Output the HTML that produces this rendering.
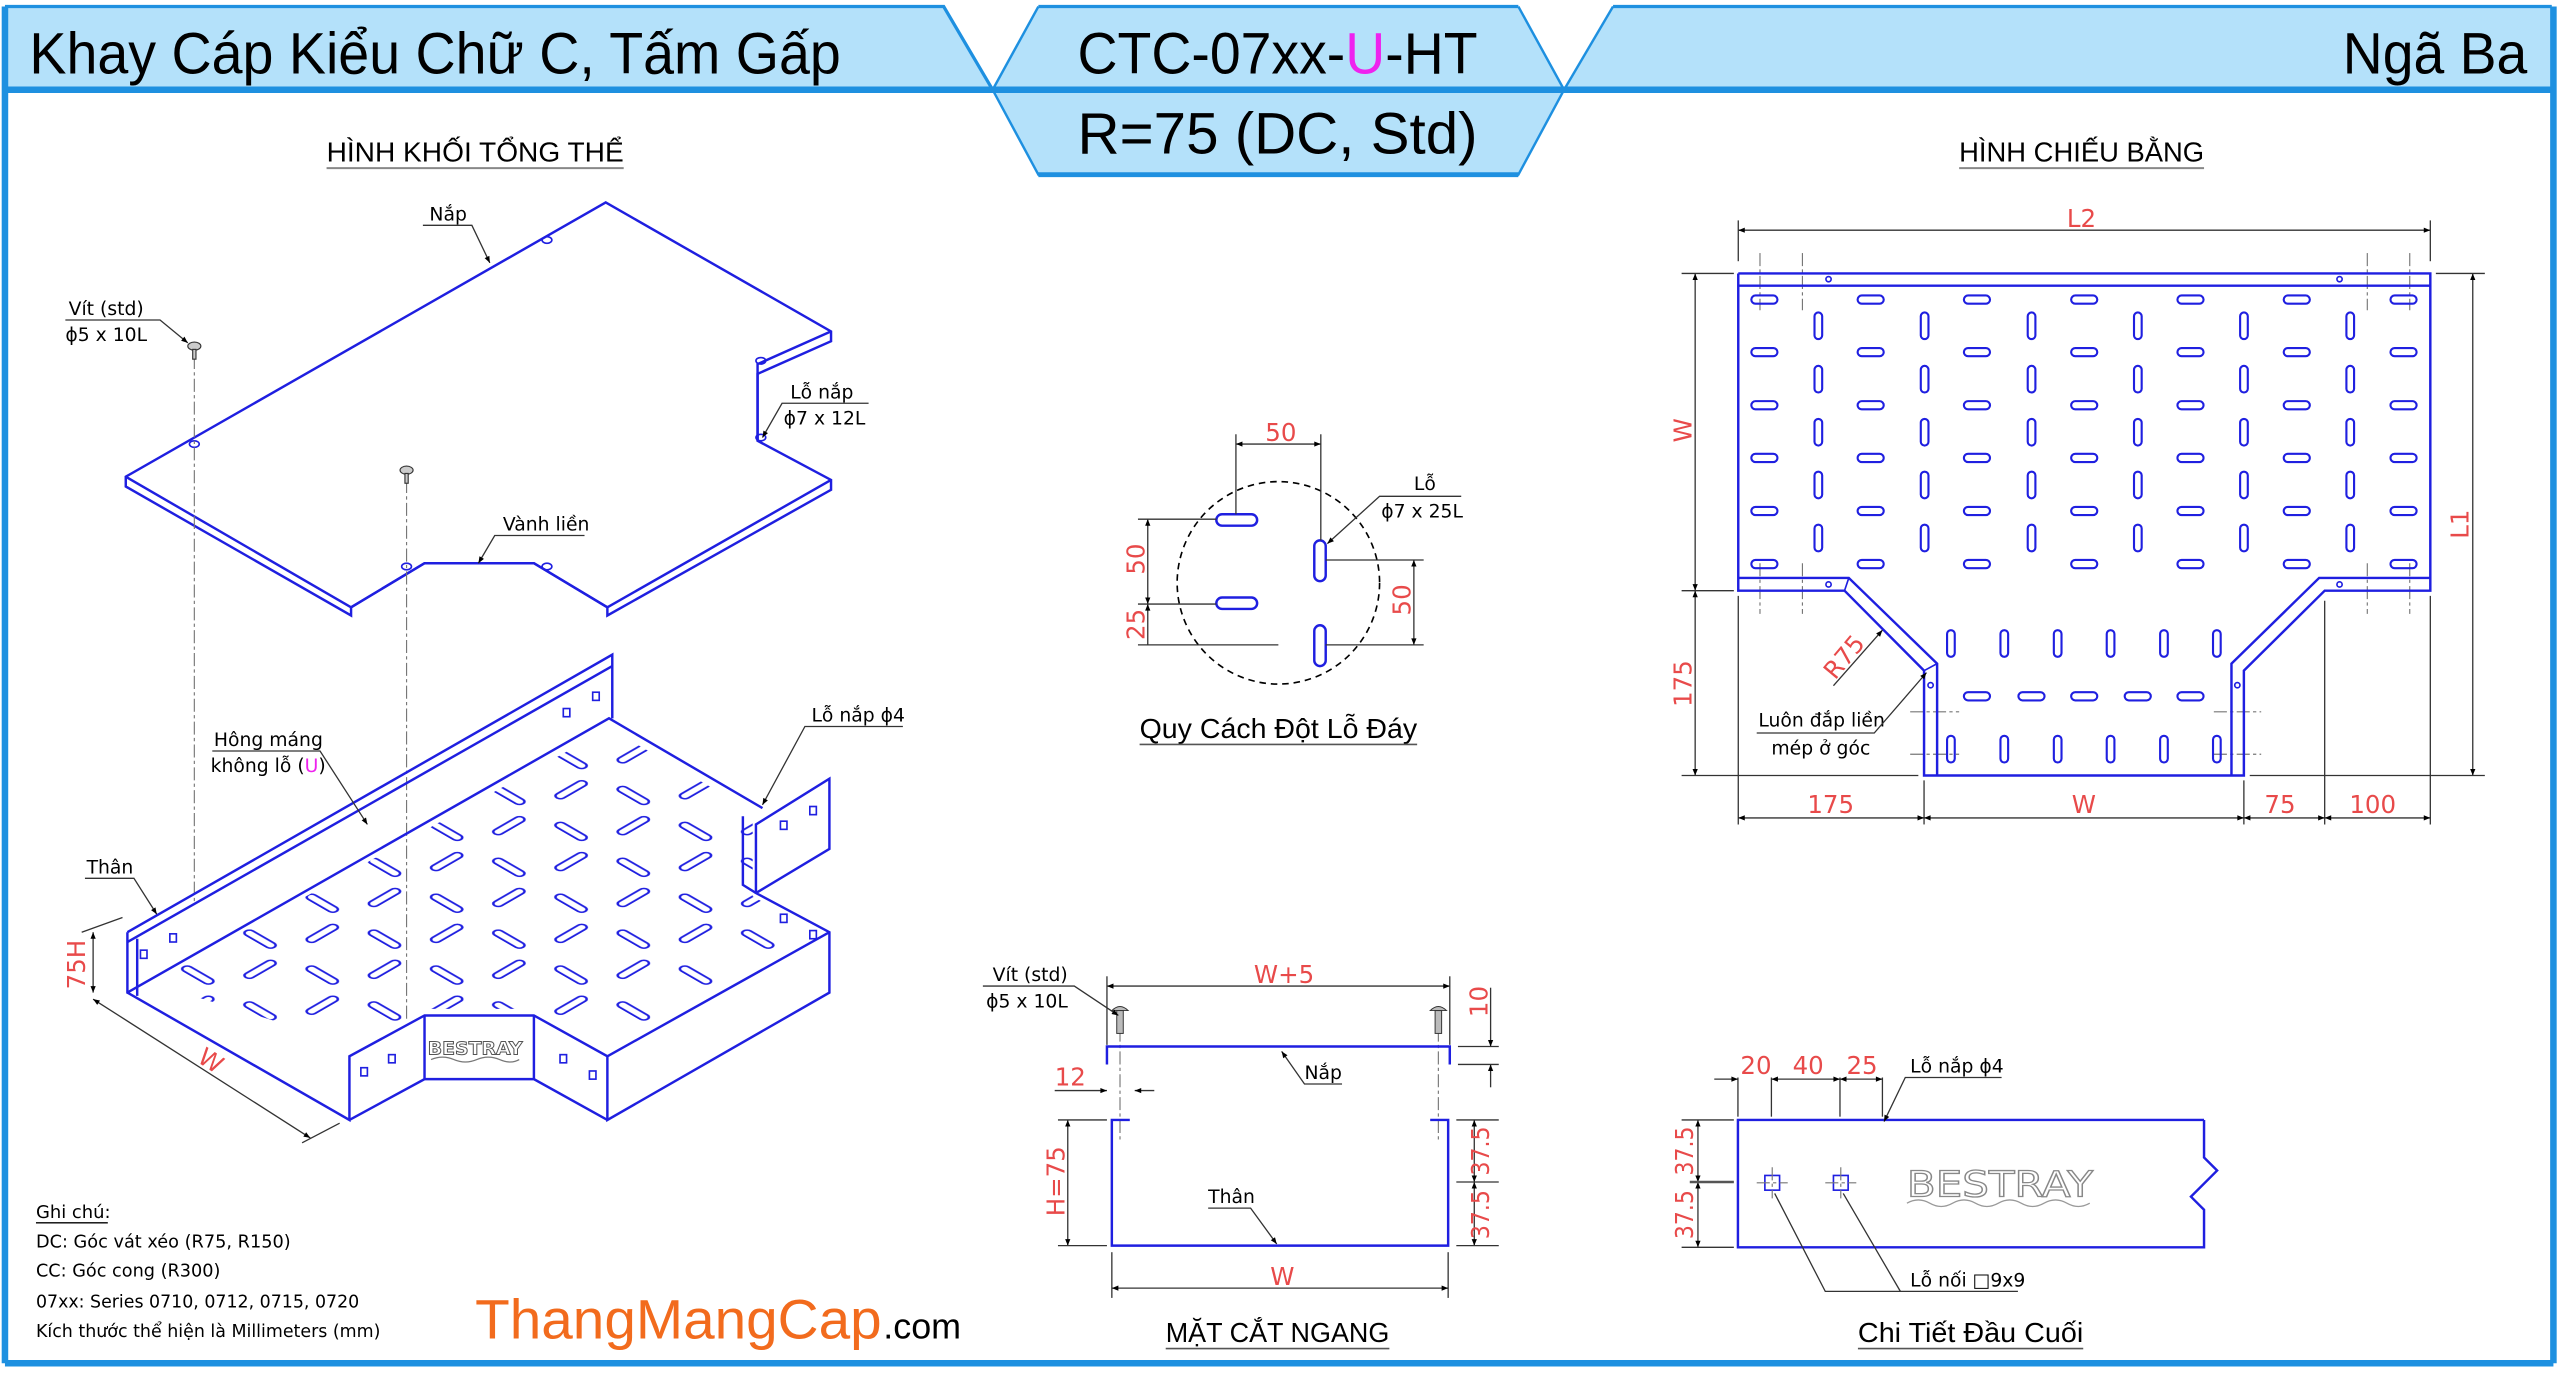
<!DOCTYPE html>
<html><head><meta charset="utf-8">
<style>
html,body{margin:0;padding:0;background:#fff;}
svg{display:block;}
text{font-family:"DejaVu Sans","Liberation Sans",sans-serif;}
.t{font-family:"Liberation Sans","DejaVu Sans",sans-serif;}
.ln{fill:none;stroke:#1f1fe0;stroke-width:1.5;}
.th{fill:none;stroke:#1f1fe0;stroke-width:1;}
.dm{fill:none;stroke:#333;stroke-width:0.8;}
.cl{fill:none;stroke:#777;stroke-width:0.7;stroke-dasharray:8 2 2 2;}
.lb{font-size:11.5px;fill:#000;}
.nt{font-size:11px;fill:#000;}
.rd{fill:#e84a4a;font-size:15px;}
</style></head>
<body>
<svg width="2560" height="1373" viewBox="0 0 1568 841" xmlns="http://www.w3.org/2000/svg">
<defs>
<marker id="ar" viewBox="0 0 10 10" refX="10" refY="5" markerWidth="7" markerHeight="5" orient="auto-start-reverse"><path d="M0,1 L10,5 L0,9z" fill="#000"/></marker>
<pattern id="slots" width="44" height="44" patternUnits="userSpaceOnUse" patternTransform="matrix(0.866,0.5,-0.866,0.5,80,606)">
<rect x="5" y="9" width="20" height="5" rx="2.5" fill="none" stroke="#1f1fe0" stroke-width="1.3"/>
<rect x="31" y="20" width="5" height="20" rx="2.5" fill="none" stroke="#1f1fe0" stroke-width="1.3"/>
</pattern>
</defs>

<!-- header -->
<polygon points="3,4 578,4 608,55 3,55" fill="#b4e1fa"/>
<polygon points="636,4 930,4 958,55 930,107 636,107 608,55" fill="#b4e1fa"/>
<polygon points="988,4 1563,4 1563,55 958,55" fill="#b4e1fa"/>
<g stroke="#1e90e0" fill="none">
<polyline points="3,4 578,4 608,55" stroke-width="2"/>
<polyline points="636,4 930,4" stroke-width="2"/>
<polyline points="988,4 1563,4" stroke-width="2"/>
<polyline points="636,4 608,55 636,107 930,107 958,55 930,4" stroke-width="1.5"/>
<polyline points="958,55 988,4" stroke-width="1.5"/>
<line x1="3" y1="55" x2="1563" y2="55" stroke-width="4"/>
<line x1="636" y1="107" x2="930" y2="107" stroke-width="3"/>
<line x1="3" y1="4" x2="3" y2="835" stroke-width="4"/>
<line x1="1564" y1="4" x2="1564" y2="835" stroke-width="4"/>
<line x1="3" y1="835" x2="1564" y2="835" stroke-width="4"/>
</g>
<text class="t" x="18" y="45" font-size="36" textLength="497" lengthAdjust="spacingAndGlyphs">Khay Cáp Kiểu Chữ C, Tấm Gấp</text>
<text class="t" x="660" y="45" font-size="36" textLength="245" lengthAdjust="spacingAndGlyphs">CTC-07xx-<tspan fill="#ee22ee">U</tspan>-HT</text>
<text class="t" x="660" y="94" font-size="36" textLength="245" lengthAdjust="spacingAndGlyphs">R=75 (DC, Std)</text>
<text class="t" x="1435" y="45" font-size="36" textLength="113" lengthAdjust="spacingAndGlyphs">Ngã Ba</text>

<!-- section titles -->
<text class="t" x="200" y="99" font-size="17" textLength="182" lengthAdjust="spacingAndGlyphs">HÌNH KHỐI TỔNG THỂ</text>
<line x1="200" y1="103" x2="382" y2="103" stroke="#888" stroke-width="1.2"/>
<text class="t" x="1200" y="99" font-size="17" textLength="150" lengthAdjust="spacingAndGlyphs">HÌNH CHIẾU BẰNG</text>
<line x1="1200" y1="103" x2="1350" y2="103" stroke="#888" stroke-width="1.2"/>

<!-- ISO: lid -->
<polygon class="ln" points="371,124 509,203 509,209 464,229 464,270 509,294 509,300 372,377 372,372 327,345 260,345 215,372 215,377 77,298 77,292"/>
<polyline class="ln" points="77,292 215,372"/>
<polyline class="ln" points="509,203 464,223 464,270"/>
<polyline class="ln" points="215,372 260,345 327,345 372,372 509,294"/>
<polyline class="th" points="77,292 371,124 509,203"/>
<g class="th"><ellipse cx="335" cy="147" rx="3" ry="2"/><ellipse cx="119" cy="272" rx="3" ry="2"/><ellipse cx="466" cy="221" rx="3" ry="2"/><ellipse cx="466" cy="268" rx="3" ry="2"/><ellipse cx="249" cy="347" rx="3" ry="2"/><ellipse cx="335" cy="347" rx="3" ry="2"/></g>
<line class="cl" x1="119" y1="218" x2="119" y2="552"/>
<line class="cl" x1="249" y1="294" x2="249" y2="624"/>
<g fill="#ccc" stroke="#333" stroke-width="0.7"><ellipse cx="119" cy="212" rx="4" ry="2.5"/><rect x="118" y="214" width="2" height="6"/><ellipse cx="249" cy="288" rx="4" ry="2.5"/><rect x="248" y="290" width="2" height="6"/></g>

<!-- ISO: tray -->
<polygon fill="url(#slots)" points="92,602 373,446 461,497 461,549 498,570 372,640 327,618 260,618 216,640"/>
<polyline class="ln" points="78,571 375,401 375,440"/>
<polyline class="ln" points="78,577 375,408"/>
<polyline class="ln" points="84,575 84,610"/>
<polyline class="ln" points="78,571 78,608 214,686 214,647 260,622 327,622 372,647 372,686 508,608 508,571 463,547 463,505 508,477 508,520 463,547"/>
<polyline class="ln" points="78,608 373,440 467,495"/>
<polyline class="ln" points="214,686 260,661 327,661 372,686"/>
<line class="ln" x1="260" y1="622" x2="260" y2="661"/>
<line class="ln" x1="327" y1="622" x2="327" y2="661"/>
<polyline class="ln" points="372,647 508,571"/>
<polyline class="ln" points="455,500 455,542 463,547"/>
<g class="th"><rect x="86" y="582" width="4" height="5"/><rect x="104" y="572" width="4" height="5"/><rect x="345" y="434" width="4" height="5"/><rect x="363" y="424" width="4" height="5"/><rect x="221" y="654" width="4" height="5"/><rect x="238" y="646" width="4" height="5"/><rect x="343" y="646" width="4" height="5"/><rect x="361" y="656" width="4" height="5"/><rect x="478" y="503" width="4" height="5"/><rect x="496" y="494" width="4" height="5"/><rect x="478" y="560" width="4" height="5"/><rect x="496" y="570" width="4" height="5"/></g>
<text x="262" y="646" font-size="11" fill="#fff" stroke="#555" stroke-width="0.6" font-weight="bold" textLength="58" lengthAdjust="spacingAndGlyphs">BESTRAY</text>
<path d="M264,649 q7,-3 14,0 t14,0 t14,0 t12,0" fill="none" stroke="#777" stroke-width="0.8"/>

<!-- ISO labels -->
<text class="lb" x="263" y="135">Nắp</text><polyline class="dm" points="259,138 289,138 300,161" marker-end="url(#ar)"/>
<text class="lb" x="42" y="193">Vít (std)</text><text class="lb" x="40" y="209">ϕ5 x 10L</text><polyline class="dm" points="40,196 98,196 115,210" marker-end="url(#ar)"/>
<text class="lb" x="484" y="244">Lỗ nắp</text><text class="lb" x="480" y="260">ϕ7 x 12L</text><polyline class="dm" points="532,247 479,247 467,268" marker-end="url(#ar)"/>
<text class="lb" x="308" y="325">Vành liền</text><polyline class="dm" points="358,328 303,328 293,345" marker-end="url(#ar)"/>
<text class="lb" x="131" y="457">Hông máng</text><text class="lb" x="129" y="473">không lỗ (<tspan fill="#ee22ee">U</tspan>)</text><polyline class="dm" points="130,460 196,460 225,505" marker-end="url(#ar)"/>
<text class="lb" x="497" y="442">Lỗ nắp ϕ4</text><polyline class="dm" points="553,445 493,445 467,493" marker-end="url(#ar)"/>
<text class="lb" x="53" y="535">Thân</text><polyline class="dm" points="52,538 82,538 96,560" marker-end="url(#ar)"/>
<line class="dm" x1="57" y1="571" x2="57" y2="608" marker-start="url(#ar)" marker-end="url(#ar)"/>
<line class="dm" x1="50" y1="571" x2="75" y2="562"/>
<text class="rd" font-size="13" transform="translate(52,606) rotate(-90)">75H</text>
<line class="dm" x1="57" y1="612" x2="190" y2="697" marker-start="url(#ar)" marker-end="url(#ar)"/>
<line class="dm" x1="185" y1="700" x2="208" y2="688"/>
<text class="rd" font-size="13" transform="translate(120,650) rotate(33)">W</text>

<!-- notes -->
<text class="nt" x="22" y="746">Ghi chú:</text><line x1="22" y1="749" x2="66" y2="749" stroke="#000" stroke-width="0.8"/>
<text class="nt" x="22" y="764" textLength="156" lengthAdjust="spacingAndGlyphs">DC: Góc vát xéo (R75, R150)</text>
<text class="nt" x="22" y="782" textLength="113" lengthAdjust="spacingAndGlyphs">CC: Góc cong (R300)</text>
<text class="nt" x="22" y="801" textLength="198" lengthAdjust="spacingAndGlyphs">07xx: Series 0710, 0712, 0715, 0720</text>
<text class="nt" x="22" y="819" textLength="211" lengthAdjust="spacingAndGlyphs">Kích thước thể hiện là Millimeters (mm)</text>
<text class="t" x="291" y="820" font-size="34" fill="#f26b1d" textLength="249" lengthAdjust="spacingAndGlyphs">ThangMangCap</text>
<text class="t" x="541" y="820" font-size="22" fill="#000">.com</text>

<!-- circle detail -->
<circle cx="783" cy="357" r="62" fill="none" stroke="#000" stroke-width="1" stroke-dasharray="4 3"/>
<g class="ln"><rect x="745" y="315" width="25" height="7" rx="3.5"/><rect x="745" y="366" width="25" height="7" rx="3.5"/><rect x="805" y="331" width="7" height="25" rx="3.5"/><rect x="805" y="383" width="7" height="25" rx="3.5"/></g>
<line class="dm" x1="757" y1="272" x2="809" y2="272" marker-start="url(#ar)" marker-end="url(#ar)"/>
<line class="dm" x1="757" y1="266" x2="757" y2="315"/><line class="dm" x1="809" y1="266" x2="809" y2="331"/>
<text class="rd" font-size="14" x="775" y="270">50</text>
<line class="dm" x1="703" y1="318" x2="703" y2="370" marker-start="url(#ar)" marker-end="url(#ar)"/>
<line class="dm" x1="703" y1="370" x2="703" y2="395" marker-start="url(#ar)"/>
<line class="dm" x1="697" y1="318" x2="745" y2="318"/><line class="dm" x1="697" y1="370" x2="745" y2="370"/><line class="dm" x1="697" y1="395" x2="783" y2="395"/>
<text class="rd" font-size="14" transform="translate(701,352) rotate(-90)">50</text>
<text class="rd" font-size="14" transform="translate(701,392) rotate(-90)">25</text>
<line class="dm" x1="866" y1="343" x2="866" y2="395" marker-start="url(#ar)" marker-end="url(#ar)"/>
<line class="dm" x1="812" y1="343" x2="872" y2="343"/><line class="dm" x1="812" y1="395" x2="872" y2="395"/>
<text class="rd" font-size="14" transform="translate(864,377) rotate(-90)">50</text>
<text class="lb" x="866" y="300">Lỗ</text><text class="lb" x="846" y="317">ϕ7 x 25L</text>
<polyline class="dm" points="895,304 845,304 813,333" marker-end="url(#ar)"/>
<text class="t" x="698" y="452" font-size="17" textLength="170" lengthAdjust="spacingAndGlyphs">Quy Cách Đột Lỗ Đáy</text>
<line x1="698" y1="456" x2="868" y2="456" stroke="#555" stroke-width="1"/>

<!-- plan view -->
<g class="cl"><line x1="1078" y1="155" x2="1078" y2="190"/><line x1="1104" y1="155" x2="1104" y2="190"/><line x1="1450" y1="155" x2="1450" y2="190"/><line x1="1476" y1="155" x2="1476" y2="190"/><line x1="1078" y1="345" x2="1078" y2="376"/><line x1="1104" y1="345" x2="1104" y2="376"/><line x1="1450" y1="345" x2="1450" y2="376"/><line x1="1476" y1="345" x2="1476" y2="376"/><line x1="1170" y1="436" x2="1200" y2="436"/><line x1="1356" y1="436" x2="1385" y2="436"/><line x1="1170" y1="462" x2="1200" y2="462"/><line x1="1356" y1="462" x2="1385" y2="462"/></g>
<polyline class="ln" points="1064.7,167.5 1488.6,167.5 1488.6,361.8 1423.9,361.8 1374.4,410.8 1374.4,475 1178.5,475 1178.5,410.8 1129.8,361.8 1064.7,361.8 1064.7,167.5" stroke-width="1.8"/>
<line class="ln" x1="1064.7" y1="175" x2="1488.6" y2="175" stroke-width="1.8"/>
<polyline class="ln" points="1064.7,354 1132.4,354 1186.5,406.5 1186.5,475"/>
<polyline class="ln" points="1488.6,354 1420.5,354 1366.8,406.5 1366.8,475"/>
<line class="th" x1="1129.8" y1="361.8" x2="1132.4" y2="354"/><line class="th" x1="1178.5" y1="410.8" x2="1186.5" y2="406.5"/>
<g fill="none" stroke="#1f1fe0" stroke-width="1.3">
<g id="hr"><rect x="1072.7" y="181" width="16" height="5" rx="2.5"/><rect x="1137.8" y="181" width="16" height="5" rx="2.5"/><rect x="1202.9" y="181" width="16" height="5" rx="2.5"/><rect x="1268.6" y="181" width="16" height="5" rx="2.5"/><rect x="1333.7" y="181" width="16" height="5" rx="2.5"/><rect x="1398.8" y="181" width="16" height="5" rx="2.5"/><rect x="1464.2" y="181" width="16" height="5" rx="2.5"/></g>
<use href="#hr" y="32.2"/><use href="#hr" y="64.7"/><use href="#hr" y="97"/><use href="#hr" y="129.5"/><use href="#hr" y="162"/>
<g id="vr"><rect x="1111.4" y="191.4" width="4.7" height="16.3" rx="2.3"/><rect x="1176.5" y="191.4" width="4.7" height="16.3" rx="2.3"/><rect x="1242" y="191.4" width="4.7" height="16.3" rx="2.3"/><rect x="1307.1" y="191.4" width="4.7" height="16.3" rx="2.3"/><rect x="1372.1" y="191.4" width="4.7" height="16.3" rx="2.3"/><rect x="1437.2" y="191.4" width="4.7" height="16.3" rx="2.3"/></g>
<use href="#vr" y="32.7"/><use href="#vr" y="65.2"/><use href="#vr" y="97.5"/><use href="#vr" y="130"/>
<g id="sv"><rect x="1192.6" y="386" width="4.7" height="16.3" rx="2.3"/><rect x="1225.3" y="386" width="4.7" height="16.3" rx="2.3"/><rect x="1258" y="386" width="4.7" height="16.3" rx="2.3"/><rect x="1290.4" y="386" width="4.7" height="16.3" rx="2.3"/><rect x="1323.1" y="386" width="4.7" height="16.3" rx="2.3"/><rect x="1355.5" y="386" width="4.7" height="16.3" rx="2.3"/></g>
<use href="#sv" y="64.7"/>
<rect x="1202.9" y="424" width="16" height="5" rx="2.5"/><rect x="1236.3" y="424" width="16" height="5" rx="2.5"/><rect x="1268.6" y="424" width="16" height="5" rx="2.5"/><rect x="1301.4" y="424" width="16" height="5" rx="2.5"/><rect x="1333.7" y="424" width="16" height="5" rx="2.5"/>
</g>
<g class="th" stroke-width="0.6"><circle cx="1120" cy="171" r="1.6"/><circle cx="1433" cy="171" r="1.6"/><circle cx="1120" cy="358" r="1.6"/><circle cx="1433" cy="358" r="1.6"/><circle cx="1182.5" cy="419.7" r="1.6"/><circle cx="1370.4" cy="419.7" r="1.6"/></g>
<line class="dm" x1="1064.7" y1="141" x2="1488.6" y2="141" marker-start="url(#ar)" marker-end="url(#ar)"/>
<line class="dm" x1="1064.7" y1="135" x2="1064.7" y2="160"/><line class="dm" x1="1488.6" y1="135" x2="1488.6" y2="160"/>
<text class="rd" x="1266" y="139">L2</text>
<line class="dm" x1="1038.3" y1="167.5" x2="1038.3" y2="361.8" marker-start="url(#ar)" marker-end="url(#ar)"/>
<line class="dm" x1="1038.3" y1="361.8" x2="1038.3" y2="475" marker-start="url(#ar)" marker-end="url(#ar)"/>
<line class="dm" x1="1030" y1="167.5" x2="1062" y2="167.5"/><line class="dm" x1="1030" y1="361.8" x2="1062" y2="361.8"/><line class="dm" x1="1030" y1="475" x2="1175" y2="475"/>
<text class="rd" transform="translate(1036,271) rotate(-90)">W</text>
<text class="rd" transform="translate(1036,433) rotate(-90)">175</text>
<line class="dm" x1="1514.6" y1="167.5" x2="1514.6" y2="475" marker-start="url(#ar)" marker-end="url(#ar)"/>
<line class="dm" x1="1492" y1="167.5" x2="1522" y2="167.5"/><line class="dm" x1="1378" y1="475" x2="1522" y2="475"/>
<text class="rd" transform="translate(1512,330) rotate(-90)">L1</text>
<g class="dm"><line x1="1064.7" y1="365" x2="1064.7" y2="505"/><line x1="1178.5" y1="478" x2="1178.5" y2="505"/><line x1="1374.4" y1="478" x2="1374.4" y2="505"/><line x1="1423.9" y1="368" x2="1423.9" y2="505"/><line x1="1488.6" y1="365" x2="1488.6" y2="505"/></g>
<line class="dm" x1="1064.7" y1="501" x2="1178.5" y2="501" marker-start="url(#ar)" marker-end="url(#ar)"/>
<line class="dm" x1="1178.5" y1="501" x2="1374.4" y2="501" marker-start="url(#ar)" marker-end="url(#ar)"/>
<line class="dm" x1="1374.4" y1="501" x2="1423.9" y2="501" marker-start="url(#ar)" marker-end="url(#ar)"/>
<line class="dm" x1="1423.9" y1="501" x2="1488.6" y2="501" marker-start="url(#ar)" marker-end="url(#ar)"/>
<text class="rd" x="1107" y="498">175</text><text class="rd" x="1269" y="498">W</text><text class="rd" x="1387" y="498">75</text><text class="rd" x="1439" y="498">100</text>
<text class="rd" transform="translate(1124,417) rotate(-50)">R75</text>
<line class="dm" x1="1123" y1="420" x2="1153" y2="386" marker-end="url(#ar)"/>
<text class="lb" x="1077" y="445">Luôn đắp liền</text><text class="lb" x="1085" y="462">mép ở góc</text>
<polyline class="dm" points="1076,449 1148,449 1180,412" marker-end="url(#ar)"/>

<!-- cross section -->
<line class="cl" x1="686" y1="630" x2="686" y2="700"/><line class="cl" x1="881" y1="630" x2="881" y2="700"/>
<polyline class="ln" points="678,652 678,641 888,641 888,652" stroke-width="2"/>
<polyline class="ln" points="692,686 681,686 681,763 887,763 887,686 876,686" stroke-width="2"/>
<g fill="#bbb" stroke="#333" stroke-width="0.6"><path d="M681,619 q5,-5 10,0z"/><rect x="684" y="619" width="4" height="14"/><path d="M876,619 q5,-5 10,0z"/><rect x="879" y="619" width="4" height="14"/></g>
<line class="dm" x1="678" y1="604" x2="888" y2="604" marker-start="url(#ar)" marker-end="url(#ar)"/>
<line class="dm" x1="678" y1="598" x2="678" y2="640"/><line class="dm" x1="888" y1="598" x2="888" y2="640"/>
<text class="rd" font-size="13" x="768" y="602">W+5</text>
<text class="lb" x="608" y="601">Vít (std)</text><text class="lb" x="604" y="617">ϕ5 x 10L</text>
<polyline class="dm" points="602,604 658,604 685,622" marker-end="url(#ar)"/>
<line class="dm" x1="913" y1="605" x2="913" y2="641" marker-end="url(#ar)"/><line class="dm" x1="913" y1="652" x2="913" y2="666" marker-start="url(#ar)"/>
<line class="dm" x1="893" y1="641" x2="918" y2="641"/><line class="dm" x1="893" y1="652" x2="918" y2="652"/>
<text class="rd" font-size="12" transform="translate(911,623) rotate(-90)">10</text>
<line class="dm" x1="646" y1="668" x2="678" y2="668" marker-end="url(#ar)"/><line class="dm" x1="695" y1="668" x2="707" y2="668" marker-start="url(#ar)"/>
<text class="rd" font-size="13" x="646" y="665">12</text>
<text class="lb" x="799" y="661">Nắp</text><polyline class="dm" points="822,664 799,664 785,644" marker-end="url(#ar)"/>
<line class="dm" x1="654" y1="686" x2="654" y2="763" marker-start="url(#ar)" marker-end="url(#ar)"/>
<line class="dm" x1="648" y1="686" x2="678" y2="686"/><line class="dm" x1="648" y1="763" x2="678" y2="763"/>
<text class="rd" font-size="13" transform="translate(652,745) rotate(-90)">H=75</text>
<line class="dm" x1="903" y1="686" x2="903" y2="724" marker-start="url(#ar)" marker-end="url(#ar)"/><line class="dm" x1="903" y1="724" x2="903" y2="763" marker-start="url(#ar)" marker-end="url(#ar)"/>
<line class="dm" x1="892" y1="686" x2="918" y2="686"/><line class="dm" x1="892" y1="763" x2="918" y2="763"/><line class="dm" x1="892" y1="724" x2="918" y2="724"/>
<text class="rd" font-size="11" transform="translate(912,720) rotate(-90)" textLength="30" lengthAdjust="spacingAndGlyphs">37.5</text><text class="rd" font-size="11" transform="translate(912,759) rotate(-90)" textLength="30" lengthAdjust="spacingAndGlyphs">37.5</text>
<text class="lb" x="740" y="737">Thân</text><polyline class="dm" points="740,740 766,740 782,762" marker-end="url(#ar)"/>
<line class="dm" x1="681" y1="767" x2="681" y2="795"/><line class="dm" x1="887" y1="767" x2="887" y2="795"/>
<line class="dm" x1="681" y1="789" x2="887" y2="789" marker-start="url(#ar)" marker-end="url(#ar)"/>
<text class="rd" font-size="13" x="778" y="787">W</text>
<text class="t" x="714" y="822" font-size="17" textLength="137" lengthAdjust="spacingAndGlyphs">MẶT CẮT NGANG</text>
<line x1="714" y1="826" x2="851" y2="826" stroke="#555" stroke-width="1"/>

<!-- end detail -->
<polyline class="ln" points="1350,686 1064.5,686 1064.5,764 1350,764 1350,741 1342,733 1358,717 1350,709 1350,686" stroke-width="1.8"/>
<g class="th"><rect x="1081" y="720" width="9" height="9"/><rect x="1123" y="720" width="9" height="9"/></g>
<g class="cl"><line x1="1076" y1="724.5" x2="1095" y2="724.5"/><line x1="1118" y1="724.5" x2="1137" y2="724.5"/><line x1="1085.5" y1="715" x2="1085.5" y2="734"/><line x1="1127.5" y1="715" x2="1127.5" y2="734"/></g>
<text x="1168" y="733" font-size="22" fill="#fff" stroke="#888" stroke-width="0.8" textLength="114" lengthAdjust="spacingAndGlyphs">BESTRAY</text>
<path d="M1168,737 q7,-4 14,0 t14,0 t14,0 t14,0 t14,0 t14,0 t14,0 t14,0" fill="none" stroke="#999" stroke-width="0.8"/>
<g class="dm"><line x1="1064.5" y1="660" x2="1064.5" y2="684"/><line x1="1085" y1="660" x2="1085" y2="684"/><line x1="1127" y1="660" x2="1127" y2="684"/><line x1="1153" y1="660" x2="1153" y2="684"/></g>
<line class="dm" x1="1050" y1="661" x2="1064.5" y2="661" marker-end="url(#ar)"/>
<line class="dm" x1="1085" y1="661" x2="1127" y2="661" marker-start="url(#ar)" marker-end="url(#ar)"/>
<line class="dm" x1="1127" y1="661" x2="1153" y2="661" marker-start="url(#ar)" marker-end="url(#ar)"/>
<text class="rd" font-size="13" x="1066" y="658">20</text><text class="rd" font-size="13" x="1098" y="658">40</text><text class="rd" font-size="13" x="1131" y="658">25</text>
<text class="lb" x="1170" y="657">Lỗ nắp ϕ4</text><polyline class="dm" points="1226,660 1167,660 1154,687" marker-end="url(#ar)"/>
<line class="dm" x1="1040" y1="686" x2="1040" y2="724" marker-start="url(#ar)" marker-end="url(#ar)"/><line class="dm" x1="1040" y1="724" x2="1040" y2="764" marker-start="url(#ar)" marker-end="url(#ar)"/>
<line class="dm" x1="1030" y1="686" x2="1062" y2="686"/><line class="dm" x1="1030" y1="764" x2="1062" y2="764"/><line x1="1035" y1="724" x2="1062" y2="724" stroke="#555" stroke-width="1.5"/>
<text class="rd" font-size="12" transform="translate(1037,720) rotate(-90)" textLength="30" lengthAdjust="spacingAndGlyphs">37.5</text><text class="rd" font-size="12" transform="translate(1037,759) rotate(-90)" textLength="30" lengthAdjust="spacingAndGlyphs">37.5</text>
<text class="lb" x="1170" y="788">Lỗ nối □9x9</text>
<polyline class="dm" points="1236,791 1118,791 1087,731"/><line class="dm" x1="1164" y1="791" x2="1129" y2="731"/>
<text class="t" x="1138" y="822" font-size="17" textLength="138" lengthAdjust="spacingAndGlyphs">Chi Tiết Đầu Cuối</text>
<line x1="1138" y1="826" x2="1276" y2="826" stroke="#555" stroke-width="1"/>
</svg>
</body></html>
